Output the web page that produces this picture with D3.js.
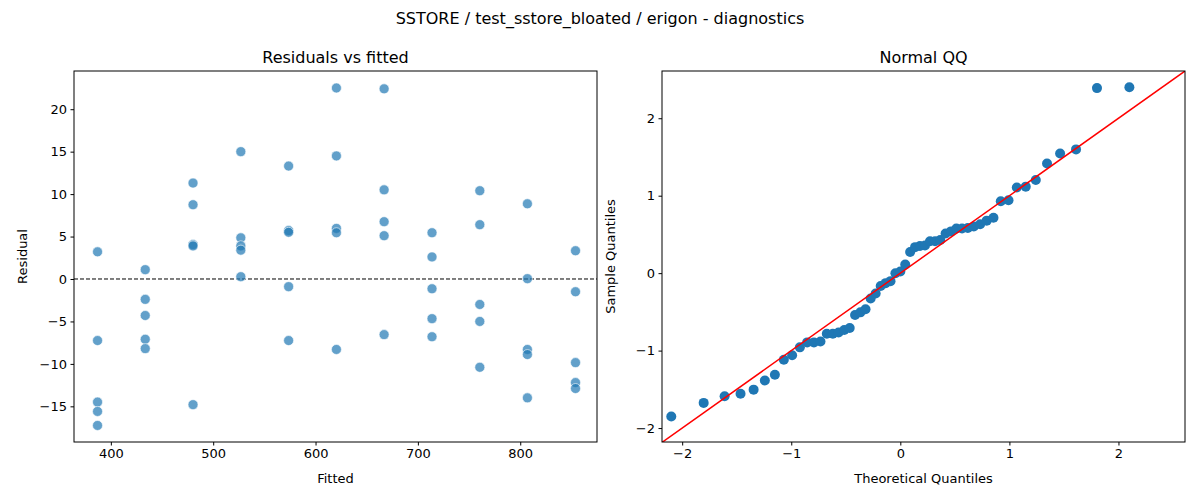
<!DOCTYPE html>
<html>
<head>
<meta charset="utf-8">
<script src="https://cdn.jsdelivr.net/npm/d3@7"></script>
<style>
  body { margin: 0; background: #fff; }
  svg text { font-family: "DejaVu Sans", sans-serif; fill: #000; }
</style>
</head>
<body>
<svg id="chart" width="1200" height="500"></svg>
<script>
// fitted levels (one per group of five runs)
var fittedLevels = [387, 433.6, 480.3, 527, 573.7, 620.4, 667, 713.8, 760.5, 807, 854];
// residuals for each fitted level
var residualGroups = [
  [3.2, -7.25, -14.5, -15.6, -17.25],
  [1.1, -2.4, -4.3, -7.1, -8.2],
  [11.3, 8.75, 4.05, 3.9, -14.8],
  [15, 4.85, 3.9, 3.4, 0.27],
  [13.3, 5.7, 5.5, -0.9, -7.25],
  [22.5, 14.5, 5.96, 5.45, -8.3],
  [22.4, 10.5, 6.75, 5.1, -6.55],
  [5.45, 2.6, -1.15, -4.67, -6.8],
  [10.4, 6.4, -3.0, -5.0, -10.4],
  [8.86, 0.04, -8.3, -8.9, -14.0],
  [3.33, -1.5, -9.85, -12.2, -12.9]
];

// QQ plot: theoretical vs sample quantiles
var theoQ = [-2.100, -1.803, -1.611, -1.465, -1.345, -1.242, -1.150, -1.068, -0.992, -0.921,
  -0.854, -0.792, -0.732, -0.674, -0.619, -0.566, -0.514, -0.464, -0.415, -0.366,
  -0.319, -0.272, -0.226, -0.180, -0.135, -0.090, -0.045, 0, 0.045, 0.090,
  0.135, 0.180, 0.226, 0.272, 0.319, 0.366, 0.415, 0.464, 0.514, 0.566,
  0.619, 0.674, 0.732, 0.792, 0.854, 0.921, 0.992, 1.068, 1.150, 1.242,
  1.345, 1.465, 1.611, 1.803, 2.100];
var sampleQ = [-1.851, -1.675, -1.589, -1.557, -1.504, -1.386, -1.311, -1.119, -1.060, -0.958,
  -0.894, -0.894, -0.883, -0.782, -0.782, -0.766, -0.734, -0.707, -0.541, -0.506,
  -0.466, -0.327, -0.263, -0.167, -0.129, -0.103, -0.002, 0.022, 0.111, 0.272,
  0.336, 0.350, 0.357, 0.411, 0.411, 0.427, 0.512, 0.539, 0.576, 0.576,
  0.582, 0.603, 0.631, 0.678, 0.716, 0.929, 0.941, 1.106, 1.117, 1.202,
  1.416, 1.544, 1.598, 2.389, 2.400];

var residTicks = [-15, -10, -5, 0, 5, 10, 15, 20];
var fittedTicks = [400, 500, 600, 700, 800];
var qqTicks = [-2, -1, 0, 1, 2];

var svg = d3.select("#chart");
var blue = "#1f77b4";
var minus = function(d) { return String(d).replace("-", "\u2212"); };

svg.append("text").attr("x", 600).attr("y", 24).attr("text-anchor", "middle")
  .style("font-size", "16px").text("SSTORE / test_sstore_bloated / erigon - diagnostics");

function frame(g, x, y, xt, yt, title, xlab, ylab, left, top, w, h) {
  g.append("text").attr("x", left + w / 2).attr("y", top - 8).attr("text-anchor", "middle")
    .style("font-size", "16px").text(title);
  var xa = g.append("g").attr("transform", "translate(0," + (top + h) + ")")
    .call(d3.axisBottom(x).tickValues(xt).tickSize(3.5).tickPadding(3.5).tickFormat(minus));
  var ya = g.append("g").attr("transform", "translate(" + left + ",0)")
    .call(d3.axisLeft(y).tickValues(yt).tickSize(3.5).tickPadding(3.5).tickFormat(minus));
  [xa, ya].forEach(function(a) {
    a.select(".domain").remove();
    a.selectAll("text").style("font-size", "13px").attr("font-family", null);
  });
  g.append("text").attr("x", left + w / 2).attr("y", top + h + 41).attr("text-anchor", "middle")
    .style("font-size", "13px").text(xlab);
  g.append("text").attr("transform", "translate(" + (left - 47) + "," + (top + h / 2) + ") rotate(-90)")
    .attr("text-anchor", "middle").style("font-size", "13px").text(ylab);
}

// Residuals vs fitted
var L = { left: 74, top: 71, w: 523, h: 371 };
var x1 = d3.scaleLinear().domain([364, 875]).range([L.left, L.left + L.w]);
var y1 = d3.scaleLinear().domain([-19.2, 24.5]).range([L.top + L.h, L.top]);
var g1 = svg.append("g");
frame(g1, x1, y1, fittedTicks, residTicks, "Residuals vs fitted", "Fitted", "Residual", L.left, L.top, L.w, L.h);
g1.append("line").attr("x1", L.left).attr("x2", L.left + L.w).attr("y1", y1(0)).attr("y2", y1(0))
  .attr("stroke", "#000").attr("stroke-dasharray", "4,2").attr("stroke-width", 1);
var pts = [];
fittedLevels.forEach(function(f, i) {
  residualGroups[i].forEach(function(r) { pts.push([f, r]); });
});
g1.selectAll("circle").data(pts).enter().append("circle")
  .attr("cx", function(d) { return x1(d[0]); }).attr("cy", function(d) { return y1(d[1]); })
  .attr("r", 5).attr("fill", blue).attr("fill-opacity", 0.7)
  .attr("stroke", "#fff").attr("stroke-width", 0.6);
g1.append("rect").attr("x", L.left).attr("y", L.top).attr("width", L.w).attr("height", L.h)
  .attr("fill", "none").attr("stroke", "#000").attr("stroke-width", 1);

// Normal QQ
var R = { left: 662, top: 71, w: 523, h: 371 };
var x2 = d3.scaleLinear().domain([-2.185, 2.61]).range([R.left, R.left + R.w]);
var y2 = d3.scaleLinear().domain([-2.18, 2.61]).range([R.top + R.h, R.top]);
var g2 = svg.append("g");
frame(g2, x2, y2, qqTicks, qqTicks, "Normal QQ", "Theoretical Quantiles", "Sample Quantiles", R.left, R.top, R.w, R.h);
g2.append("defs").append("clipPath").attr("id", "qqclip").append("rect")
  .attr("x", R.left).attr("y", R.top).attr("width", R.w).attr("height", R.h);
g2.selectAll("circle").data(theoQ).enter().append("circle")
  .attr("cx", function(d) { return x2(d); }).attr("cy", function(d, i) { return y2(sampleQ[i]); })
  .attr("r", 5).attr("fill", blue);
g2.append("line").attr("clip-path", "url(#qqclip)")
  .attr("x1", x2(-3)).attr("y1", y2(-3)).attr("x2", x2(3)).attr("y2", y2(3))
  .attr("stroke", "red").attr("stroke-width", 1.5);
g2.append("rect").attr("x", R.left).attr("y", R.top).attr("width", R.w).attr("height", R.h)
  .attr("fill", "none").attr("stroke", "#000").attr("stroke-width", 1);
</script>
</body>
</html>
